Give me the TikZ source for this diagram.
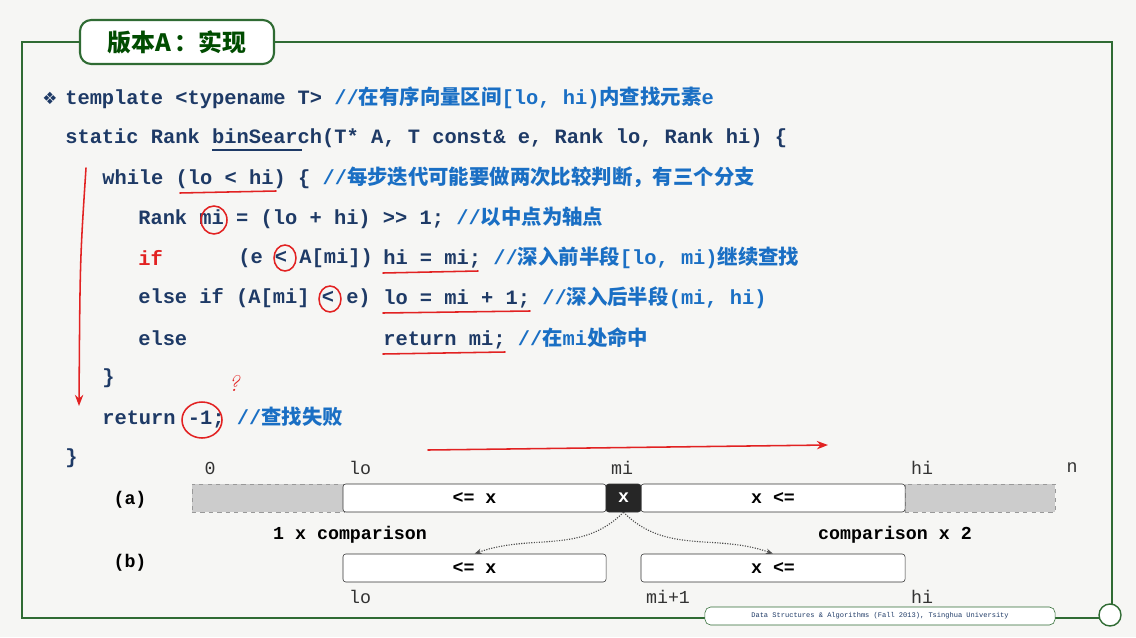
\documentclass[tikz,border=0pt]{standalone}
\usepackage{fontspec}
\setmonofont{Liberation Mono}
\newfontfamily\cjk{Noto Sans CJK SC}
\newfontfamily\symf{DejaVu Sans}
\usetikzlibrary{positioning,calc,arrows.meta}
\definecolor{frame}{HTML}{2F6B33}
\definecolor{codec}{HTML}{1E3A66}
\definecolor{cmtc}{HTML}{1A6FC4}
\definecolor{pen}{HTML}{E22222}
\definecolor{bg}{HTML}{F6F6F4}
\newcommand\cm[1]{\textcolor{cmtc}{#1}}
\newcommand\zh[1]{{\cjk\bfseries #1}}
\begin{document}
\begin{tikzpicture}[x=0.025cm,y=-0.025cm,
    code/.style={anchor=west, inner sep=0pt, font=\ttfamily\bfseries\fontsize{14.5}{16}\selectfont, text=codec},
    cell/.style={draw=black!80, fill=white, rounded corners=2pt, minimum height=0.7cm, inner sep=0pt,
      font=\ttfamily\bfseries\fontsize{13}{14}\selectfont},
    lbl/.style={font=\ttfamily\fontsize{13}{14}\selectfont, inner sep=0pt},
    ink/.style={draw=pen, line width=1.1pt, line cap=round},
    >=Stealth]
  \fill[bg] (0,0) rectangle (1136,637);
  \useasboundingbox (0,0) rectangle (1136,637);
  \draw[frame, line width=1.5pt] (22,42) rectangle (1112,618);
  \node[draw=frame, line width=1.5pt, fill=white, rounded corners=8pt, minimum width=4.85cm, minimum height=1.1cm,
    font=\cjk\bfseries\fontsize{17}{18}\selectfont, text=black!70!green] (title) at (177,42) {版本A\,：实现};

  % code lines
  \node[code, anchor=center, font=\symf\fontsize{12}{12}\selectfont] (bul) at (50,98) {❖};
  \node[code] (l1) at (65,98) {template <typename T> \cm{//\zh{在有序向量区间}[lo, hi)\zh{内查找元素}e}};
  \node[code] (l2) at (65,138) {static Rank binSearch(T* A, T const\& e, Rank lo, Rank hi) \{};
  \draw[codec, line width=1pt] (212,150) -- (302,150);
  \node[code] (l3) at (102,178) {while (lo < hi) \{ \cm{//\zh{每步迭代可能要做两次比较判断，有三个分支}}};
  \node[code] (l4) at (138,218) {Rank mi = (lo + hi) >> 1; \cm{//\zh{以中点为轴点}}};
  \node[code, text=pen] (l5) at (138,258) {if};
  \node[code] (l5b) at (238,258) {(e < A[mi])};
  \node[code] (l5c) at (383,258) {hi = mi; \cm{//\zh{深入前半段}[lo, mi)\zh{继续查找}}};
  \node[code] (l6) at (138,298) {else if (A[mi] < e)};
  \node[code] (l6c) at (383,298) {lo = mi + 1; \cm{//\zh{深入后半段}(mi, hi)}};
  \node[code] (l7) at (138,338) {else};
  \node[code] (l7c) at (383,338) {return mi; \cm{//\zh{在}mi\zh{处命中}}};
  \node[code] (l8) at (102,378) {\}};
  \node[code] (l9) at (102,418) {return -1; \cm{//\zh{查找失败}}};
  \node[code] (l10) at (65,458) {\}};

  % handwritten marks
  \draw[ink, ->] (86,168) .. controls (80,260) .. (79,406);
  \draw[ink] (180,193) -- (276,191);
  \draw[ink] (214,220) ellipse (13 and 14);
  \draw[ink] (285,258) ellipse (11 and 13);
  \draw[ink] (330,299) ellipse (11 and 13);
  \draw[ink] (202,420) ellipse (20 and 18);
  \draw[ink] (383,273) -- (478,271);
  \draw[ink] (383,313) -- (530,311);
  \draw[ink] (383,354) -- (505,352);
  \node[text=pen, font=\fontsize{16}{16}\selectfont\itshape] (q) at (234,383) {?};
  \draw[ink, ->] (428,450) -- (828,445);

  % array
  \foreach \t/\x in {0/210,lo/360,mi/622,hi/922,n/1072}
    \node[lbl, text=black!80] (top-\t) at (\x,468) {\t};
  \node[lbl, font=\ttfamily\bfseries\fontsize{13}{14}\selectfont] (ra) at (130,500) {(a)};
  \node[lbl, font=\ttfamily\bfseries\fontsize{13}{14}\selectfont] (rb) at (130,563) {(b)};
  \node[cell, draw=black!40, fill=black!20, dashed, rounded corners=0pt, minimum width=3.8cm] (gl) at (268,498) {};
  \node[cell, draw=black!40, fill=black!20, dashed, rounded corners=0pt, minimum width=3.75cm] (gr) at (980,498) {};
  \node[cell, minimum width=6.575cm] (al) at (474.5,498) {<= x};
  \node[cell, minimum width=6.6cm] (ar) at (773,498) {x <=};
  \node[cell, fill=black!85, text=white, minimum width=0.875cm] (ax) at (623.5,498) {x};
  \node[lbl, font=\ttfamily\bfseries\fontsize{13}{14}\selectfont] (c1) at (350,535) {1 x comparison};
  \node[lbl, font=\ttfamily\bfseries\fontsize{13}{14}\selectfont] (c2) at (895,535) {comparison x 2};
  \node[cell, minimum width=6.575cm] (bl) at (474.5,568) {<= x};
  \node[cell, minimum width=6.6cm] (br) at (773,568) {x <=};
  \draw[densely dotted, black!70, thick, -{Stealth[length=5pt]}] (ax.south) to[out=225, in=20] (bl.north);
  \draw[densely dotted, black!70, thick, -{Stealth[length=5pt]}] (ax.south) to[out=-45, in=160] (br.north);
  \foreach \t/\x in {lo/360,mi+1/668,hi/922}
    \node[lbl, text=black!80] (bot-\t) at (\x,597) {\t};

  % footer
  \node[draw=frame, fill=white, rounded corners=4pt, minimum width=8.75cm, minimum height=0.45cm, inner sep=1pt,
    font=\ttfamily\fontsize{5}{6}\selectfont, text=codec] (foot) at (880,616) {Data Structures \& Algorithms (Fall 2013), Tsinghua University};
  \node[draw=frame, circle, fill=white, minimum size=0.55cm, line width=1pt] (logo) at (1110,615) {};
\end{tikzpicture}
\end{document}
